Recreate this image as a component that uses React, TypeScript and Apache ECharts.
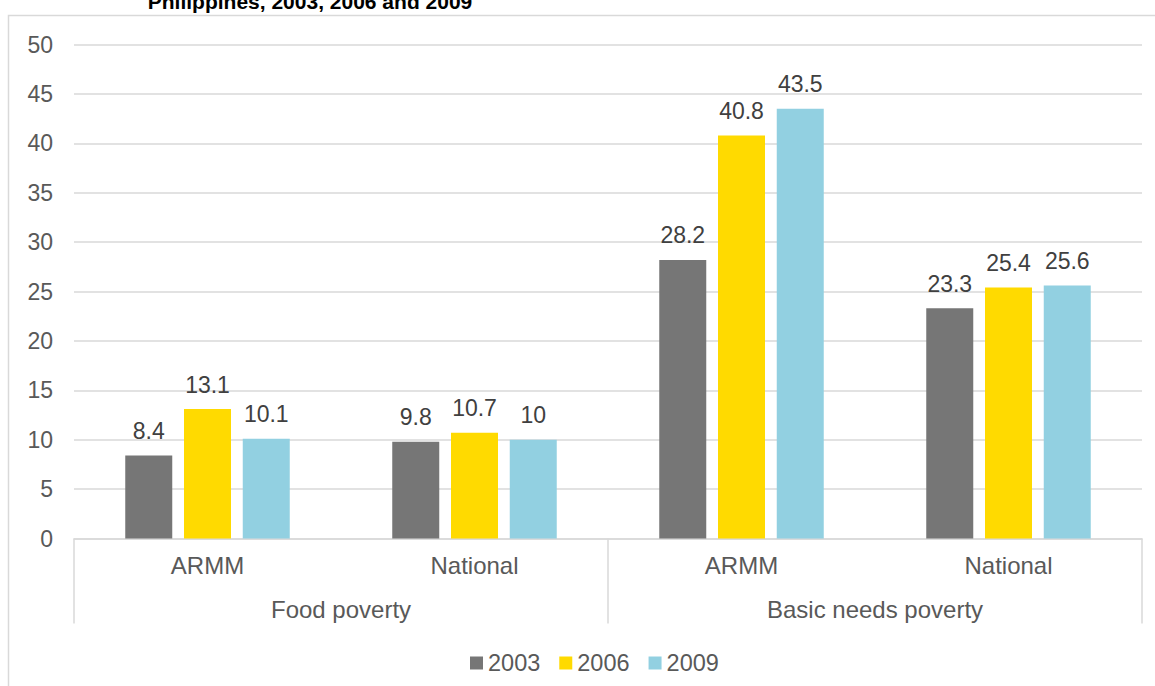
import React, { useEffect, useRef } from "react";
import * as echarts from "echarts";

const categories = ["ARMM", "National", "ARMM", "National"];
const groups = ["Food poverty", "Basic needs poverty"];
const years = ["2003", "2006", "2009"];
const values2003 = [8.4, 9.8, 28.2, 23.3];
const values2006 = [13.1, 10.7, 40.8, 25.4];
const values2009 = [10.1, 10, 43.5, 25.6];
const colors = ["#767676", "#FFDA00", "#92D0E1"];
const titleText = "Philippines, 2003, 2006 and 2009";

const FONT = "'Liberation Sans', Arial, sans-serif";

export default function App() {
  const ref = useRef<HTMLDivElement>(null);
  useEffect(() => {
    if (!ref.current) return;
    const chart = echarts.init(ref.current, null, { renderer: "svg" });
    const seriesData = [values2003, values2006, values2009];
    chart.setOption({
      animation: false,
      textStyle: { fontFamily: FONT },
      graphic: [
        {
          type: "rect",
          shape: { x: 8.5, y: 15.5, width: 1170, height: 700 },
          style: { fill: "none", stroke: "#d9d9d9", lineWidth: 1.5 },
          silent: true,
        },
        {
          type: "text",
          x: 310,
          y: 11.5,
          style: {
            text: titleText,
            fontSize: 21,
            fontWeight: "bold",
            fontFamily: FONT,
            fill: "#000000",
            align: "center",
            verticalAlign: "bottom",
          },
        },
      ],
      grid: { left: 74, right: 13, top: 44.5, bottom: 147.5, containLabel: false },
      legend: {
        data: years,
        top: 646,
        left: 465,
        icon: "rect",
        itemWidth: 13,
        itemHeight: 13,
        itemGap: 19,
        textStyle: { fontSize: 23.5, color: "#595959", fontFamily: FONT },
      },
      xAxis: [
        {
          type: "category",
          data: categories,
          axisLine: { lineStyle: { color: "#d9d9d9", width: 1.5 } },
          axisTick: { show: false },
          axisLabel: { margin: 15, fontSize: 24, color: "#595959", fontFamily: FONT },
        },
        {
          type: "category",
          data: groups,
          position: "bottom",
          axisLine: { show: false },
          axisTick: { show: true, length: 85, lineStyle: { color: "#d9d9d9", width: 1.5 } },
          axisLabel: { margin: 59, fontSize: 24, color: "#595959", fontFamily: FONT },
          splitLine: { show: false },
        },
      ],
      yAxis: {
        type: "value",
        min: 0,
        max: 50,
        interval: 5,
        axisLine: { show: false },
        axisTick: { show: false },
        splitLine: { lineStyle: { color: "#d9d9d9", width: 1.5 } },
        axisLabel: { margin: 21, fontSize: 23, color: "#595959", fontFamily: FONT },
      },
      series: years.map((y, i) => ({
        name: y,
        type: "bar",
        xAxisIndex: 0,
        data: seriesData[i],
        barWidth: 47,
        barGap: "25%",
        itemStyle: { color: colors[i] },
        label: {
          show: true,
          position: "top",
          distance: 13,
          fontSize: 23,
          color: "#404040",
          fontFamily: FONT,
        },
      })),
    });
    return () => chart.dispose();
  }, []);
  return (
    <div
      ref={ref}
      style={{ position: "absolute", left: 0, top: 0, width: 1155, height: 686, background: "#fff" }}
    />
  );
}
